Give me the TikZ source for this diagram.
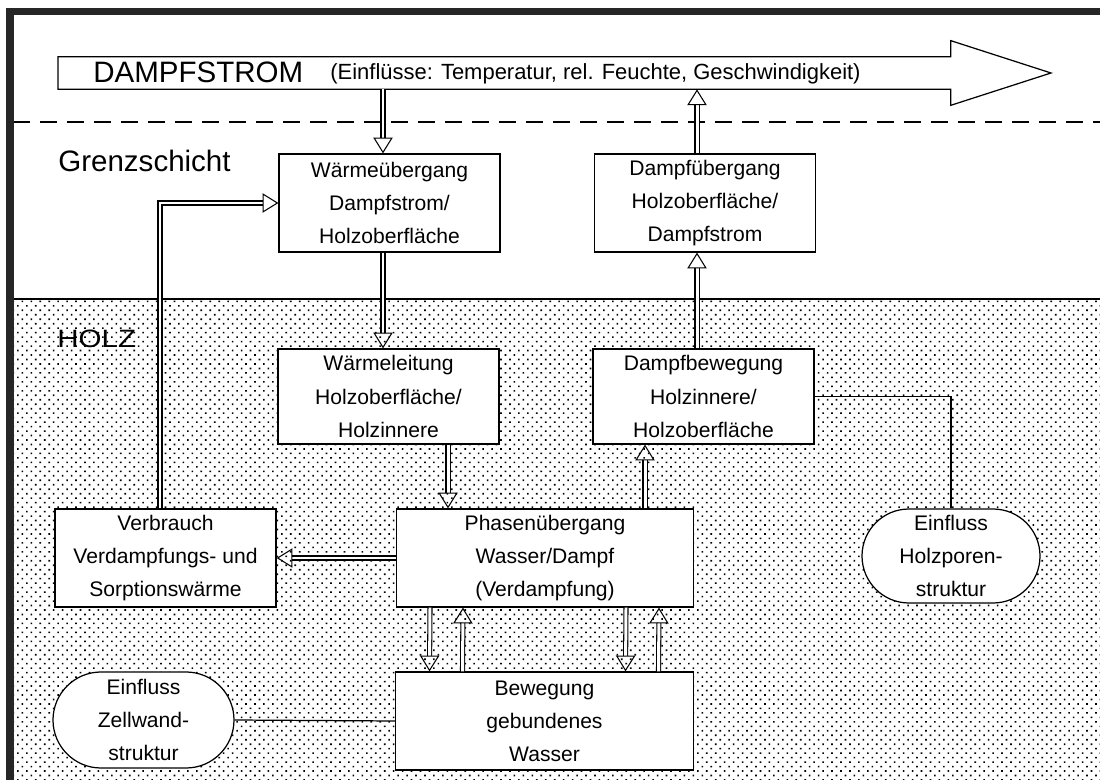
\documentclass[tikz,border=0pt]{standalone}
\usepackage{fontspec}
\setmainfont{Liberation Sans}
\usetikzlibrary{arrows.meta, positioning, shapes.misc, patterns.meta, calc}

\begin{document}
\begin{tikzpicture}[
  box/.style={draw, fill=white, minimum width=4.42cm, minimum height=1.96cm,
  align=center, font=\fontsize{12}{18.8}\selectfont, inner sep=0pt, line width=0.7pt},
  infl/.style={draw, fill=white, rounded rectangle, minimum width=3.6cm, minimum height=1.9cm,
  align=center, font=\fontsize{12}{18.8}\selectfont, inner sep=0pt, line width=0.7pt},
  harr/.style={double, double distance=1.7pt, line width=0.6pt,
  -{Triangle[open, length=9pt, width=11pt, line width=0.6pt]}},
  lnk/.style={line width=0.7pt}
]
\useasboundingbox (0,0) rectangle (22,-15.6);
\fill[pattern={Dots[radius=0.65pt, distance=3.6pt, angle=45]}, pattern color=black] (0.26,-5.98) rectangle (22,-15.6);
\draw[line width=0.8pt] (0.26,-5.98) -- (22,-5.98);
\draw[dash pattern=on 0.34cm off 0.2cm, line width=0.6pt] (0.26,-2.44) -- (22,-2.44);
\draw[line width=0.14cm, black!85] (0.2,-15.6) -- (0.2,-0.23) -- (22,-0.23);

\node[minimum width=17.84cm, minimum height=0.64cm, inner sep=0pt, anchor=west] (strom) at (1.16,-1.46) {};
\draw[lnk, fill=white] (strom.north west) -- (strom.north east) -- ++(0,0.32) -- (21.02,-1.46)
  -- ($(strom.south east)+(0,-0.32)$) -- (strom.south east) -- (strom.south west) -- cycle;
\node[font=\fontsize{16.8}{20}\selectfont, inner sep=0pt, anchor=base west] (stitel) at (1.86,-1.65) {DAMPFSTROM};
\node[font=\fontsize{12.5}{15}\selectfont, inner sep=0pt, anchor=base west] (sinfo) at (6.6,-1.6) {(Einflüsse: Temperatur, rel. Feuchte, Geschwindigkeit)};

\node[font=\fontsize{16.8}{20}\selectfont, inner sep=0pt, anchor=base west] (grenz) at (1.16,-3.43) {Grenzschicht};
\node[font=\fontsize{16.8}{20}\selectfont, inner sep=0pt, anchor=base west] (holz) at (1.14,-6.96) {\scalebox{1}[0.85]{HOLZ}};

\node[box] (wue) at (7.79,-4.06) {Wärmeübergang\\Dampfstrom/\\Holzoberfläche};
\node[box] (due) at (14.1,-4.06) {Dampfübergang\\Holzoberfläche/\\Dampfstrom};
\node[box, minimum height=1.9cm] (wle) at (7.77,-7.93) {Wärmeleitung\\Holzoberfläche/\\Holzinnere};
\node[box, minimum height=1.9cm] (dbw) at (14.07,-7.93) {Dampfbewegung\\Holzinnere/\\Holzoberfläche};
\node[box] (verb) at (3.31,-11.16) {Verbrauch\\Verdampfungs- und\\Sorptionswärme};
\node[box, minimum width=5.95cm] (phase) at (10.9,-11.16) {Phasenübergang\\Wasser/Dampf\\(Verdampfung)};
\node[infl, minimum width=3.56cm, minimum height=1.88cm] (holzpor) at (19.02,-11.12) {Einfluss\\Holzporen-\\struktur};
\node[infl, minimum width=3.62cm, minimum height=1.92cm] (zellw) at (2.87,-14.4) {Einfluss\\Zellwand-\\struktur};
\node[box, minimum width=5.95cm] (bew) at (10.89,-14.42) {Bewegung\\gebundenes\\Wasser};

\coordinate (p1) at ($(wue.north)+(-0.13,0)$);
\coordinate (p2) at ($(due.north)+(-0.16,0)$);
\coordinate (p3) at ($(wue.south)+(-0.13,0)$);
\coordinate (p4) at ($(dbw.north)+(-0.13,0)$);
\coordinate (p5) at ($(wle.south)+(1.19,0)$);
\coordinate (p6) at ($(dbw.south)+(-1.17,0)$);
\coordinate (p7) at ($(verb.north)+(-0.11,0)$);
\draw[harr] (p1 |- strom.south) -- (p1);
\draw[harr] (p2) -- (p2 |- strom.south);
\draw[harr] (p3) -- (p3 |- wle.north);
\draw[harr] (p4) -- (p4 |- due.south);
\draw[harr] (p5) -- (p5 |- phase.north);
\draw[harr] (p6 |- phase.north) -- (p6);
\draw[harr] (phase.west) -- (verb.east);
\draw[harr] (p7) |- (wue.west);
\foreach \dx in {-1.97,1.95} {
  \draw[harr] ($(phase.south)+(\dx-0.33,0)$) -- ($(bew.north)+(\dx-0.33,0)$);
  \draw[harr] ($(bew.north)+(\dx+0.33,0)$) -- ($(phase.south)+(\dx+0.33,0)$);
}
\draw[lnk] (dbw.east) -| (holzpor.north);
\draw[lnk] (zellw.east) -- (bew.west);
\end{tikzpicture}
\end{document}
